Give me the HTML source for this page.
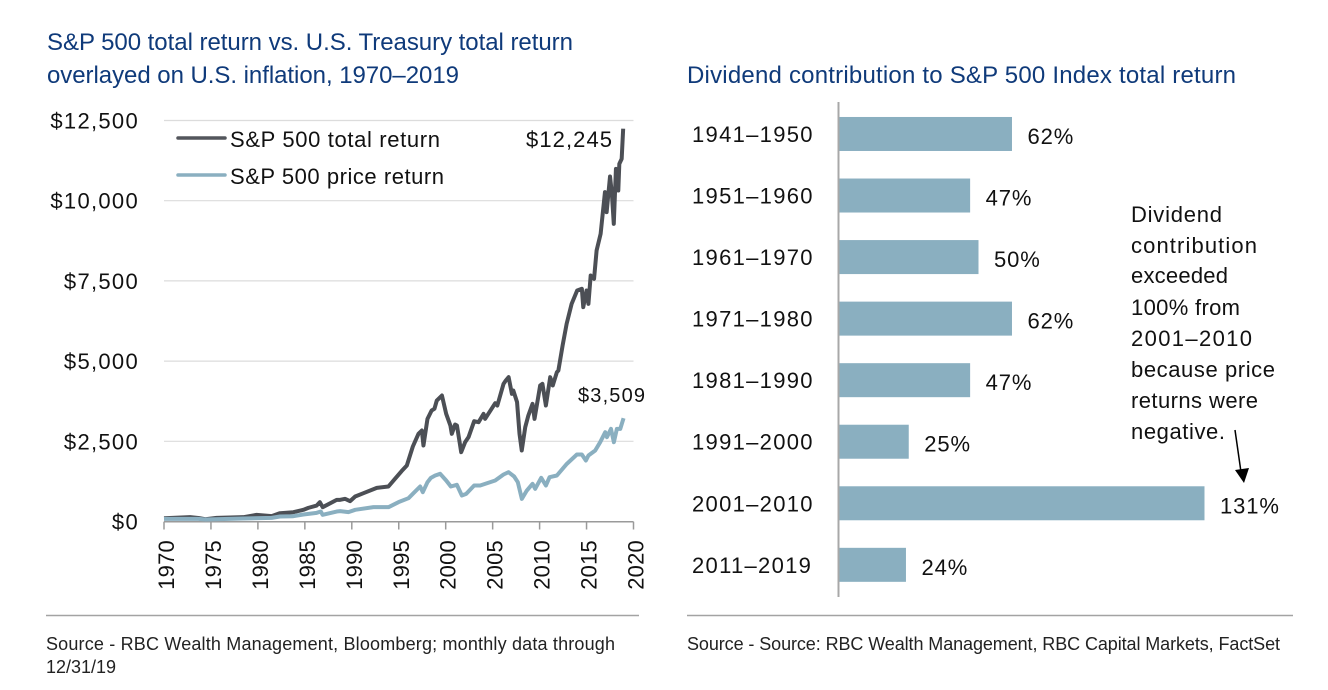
<!DOCTYPE html>
<html lang="en">
<head>
<meta charset="utf-8">
<title>S&amp;P 500 total return and dividend contribution</title>
<style>
html,body{margin:0;padding:0;background:#fff}
svg{display:block}
text{font-family:"Liberation Sans",sans-serif;fill:#111}
.title{fill:#0f3a7a;font-size:24px}
.foot{fill:#222;font-size:18px}
.note{font-size:22px}
</style>
</head>
<body>
<svg id="root" width="1328" height="690" viewBox="0 0 1328 690" xmlns="http://www.w3.org/2000/svg">
  <rect width="1328" height="690" fill="#fff"/>
  <text class="title" x="47" y="50" textLength="526" lengthAdjust="spacing">S&amp;P 500 total return vs. U.S. Treasury total return</text>
  <text class="title" x="47" y="83" textLength="412" lengthAdjust="spacing">overlayed on U.S. inflation, 1970–2019</text>
  <text class="title" x="687" y="83" textLength="549" lengthAdjust="spacing">Dividend contribution to S&amp;P 500 Index total return</text>

  <g id="left-chart"></g>

  <g>
    <line x1="178" x2="225" y1="138" y2="138" stroke="#53565c" stroke-width="3.5" stroke-linecap="round"/>
    <text x="230" y="147" font-size="22" textLength="210" lengthAdjust="spacing">S&amp;P 500 total return</text>
    <line x1="178" x2="225" y1="175" y2="175" stroke="#8aafc0" stroke-width="3.5" stroke-linecap="round"/>
    <text x="230" y="184" font-size="22" textLength="214" lengthAdjust="spacing">S&amp;P 500 price return</text>
  </g>
  <text x="526" y="147" font-size="22" textLength="86" lengthAdjust="spacing">$12,245</text>
  <text x="578" y="402" font-size="20" textLength="67" lengthAdjust="spacing">$3,509</text>

  <g id="right-chart"></g>

  <g>
    <text class="note" x="1131" y="222" textLength="91" lengthAdjust="spacing">Dividend</text>
    <text class="note" x="1131" y="253" textLength="126" lengthAdjust="spacing">contribution</text>
    <text class="note" x="1131" y="283" textLength="97" lengthAdjust="spacing">exceeded</text>
    <text class="note" x="1131" y="315" textLength="109" lengthAdjust="spacing">100% from</text>
    <text class="note" x="1131" y="346" textLength="121" lengthAdjust="spacing">2001–2010</text>
    <text class="note" x="1131" y="377" textLength="144" lengthAdjust="spacing">because price</text>
    <text class="note" x="1131" y="408" textLength="127" lengthAdjust="spacing">returns were</text>
    <text class="note" x="1131" y="439" textLength="94" lengthAdjust="spacing">negative.</text>
    <line x1="1235" y1="430" x2="1241" y2="472" stroke="#000" stroke-width="1.5"/>
    <polygon points="1235,470 1249,468 1244,483" fill="#000"/>
  </g>

  <line x1="46" x2="639" y1="615.5" y2="615.5" stroke="#a3a3a3" stroke-width="1.5"/>
  <line x1="687" x2="1293" y1="615.5" y2="615.5" stroke="#a3a3a3" stroke-width="1.5"/>
  <text class="foot" x="46" y="650" textLength="569" lengthAdjust="spacing">Source - RBC Wealth Management, Bloomberg; monthly data through</text>
  <text class="foot" x="46" y="673" textLength="70" lengthAdjust="spacing">12/31/19</text>
  <text class="foot" x="687" y="650" textLength="593" lengthAdjust="spacing">Source - Source: RBC Wealth Management, RBC Capital Markets, FactSet</text>
</svg>
<script>
const yTicks = [0, 2500, 5000, 7500, 10000, 12500];
const yTickLabels = ["$0", "$2,500", "$5,000", "$7,500", "$10,000", "$12,500"];
const xTicks = [1970, 1975, 1980, 1985, 1990, 1995, 2000, 2005, 2010, 2015, 2020];

const totalYears = [1970,1972.77,1973.66,1974.4,1975.6,1978.45,1979.87,1981.47,1982.35,1983.77,1984.84,1985.37,1986.26,1986.6,1986.9,1988.39,1988.76,1989.28,1989.82,1990.36,1991.24,1992.66,1993.9,1994.6,1995.3,1995.86,1996.5,1997.1,1997.46,1997.63,1998.06,1998.5,1998.8,1999.05,1999.6,2000.05,2000.5,2000.65,2001,2001.2,2001.65,2002.07,2002.43,2003.03,2003.5,2004.03,2004.2,2005.27,2005.5,2006.16,2006.4,2006.7,2007.05,2007.2,2007.6,2007.86,2008.1,2008.47,2008.8,2009.25,2009.46,2010.06,2010.3,2010.67,2011.13,2011.4,2011.84,2012,2012.45,2012.88,2013.41,2014,2014.5,2014.65,2015,2015.2,2015.44,2015.8,2016.07,2016.5,2016.96,2017.14,2017.5,2017.7,2017.9,2018.13,2018.38,2018.49,2018.74,2018.9];
const totalValues = [100,135,110,70,114,135,207,166,259,290,363,425,498,602,446,675,675,706,634,779,883,1049,1091,1330,1569,1746,2338,2733,2836,2369,3200,3460,3512,3771,3927,3356,2992,2733,3023,2992,2161,2473,2629,3127,3096,3356,3200,3688,3616,4291,4395,4499,3979,4083,3720,2733,2213,2940,3304,3668,3200,4239,4291,3616,4499,4239,4655,4707,5486,6162,6785,7201,7253,6681,7201,6785,7668,7564,8447,8967,10266,9642,10754,10214,9279,10993,10318,11149,11305,12245];

const priceYears = [1970,1973.66,1974.4,1978.45,1981.47,1982.35,1983.77,1984.84,1986.26,1986.7,1986.9,1988.39,1988.76,1989.64,1990.36,1992.31,1993.91,1994.97,1996.04,1996.5,1997.28,1997.56,1998.06,1998.42,1998.88,1999.41,2000.05,2000.55,2001.19,2001.72,2002.18,2003.03,2003.67,2005.27,2006.16,2006.69,2007.29,2007.68,2008.11,2008.64,2009.25,2009.53,2010.17,2010.67,2011.06,2011.84,2012.9,2013.97,2014.5,2014.93,2015.2,2015.92,2016.45,2016.99,2017.17,2017.6,2017.91,2018.23,2018.59,2018.94];
const priceValues = [83,82,62,93,114,155,165,218,270,311,207,311,322,291,364,447,447,603,727,862,1091,914,1226,1361,1434,1486,1278,1091,1143,810,862,1122,1122,1278,1465,1538,1403,1226,706,966,1174,1018,1361,1122,1382,1434,1797,2088,2088,1901,2057,2213,2473,2784,2629,2888,2473,2888,2888,3221];

const barCategories = ["1941–1950","1951–1960","1961–1970","1971–1980","1981–1990","1991–2000","2001–2010","2011–2019"];
const barValues = [62, 47, 50, 62, 47, 25, 131, 24];

const NS = "http://www.w3.org/2000/svg";
function make(tag, attrs, parent, txt) {
  const el = document.createElementNS(NS, tag);
  for (const k in attrs) el.setAttribute(k, attrs[k]);
  if (txt !== undefined) el.textContent = txt;
  parent.appendChild(el);
  return el;
}

/* ---------- Left line chart ---------- */
const left = document.getElementById("left-chart");
const xOf = yr => 164 + (yr - 1970) * (633.5 - 164) / 50;
const yOf = v => 521.5 - v * (521.5 - 120.5) / 12500;

yTicks.forEach((t, i) => {
  if (t > 0) {
    const g = make("line", {x1:164, x2:633.5, y1:yOf(t), y2:yOf(t), stroke:"#dcdcdc", "stroke-width":1.2}, left);
    
    
  }
  const lb = make("text", {x:139, y:yOf(t) + 8, "text-anchor":"end", "font-size":22, "letter-spacing":1.3}, left, yTickLabels[i]);
  
  
});

const xAxis = make("line", {x1:164, x2:633.5, y1:521.7, y2:521.7, stroke:"#9a9a9a", "stroke-width":1.5}, left);



xTicks.forEach(t => {
  const tk = make("line", {x1:xOf(t), x2:xOf(t), y1:521.7, y2:529.5, stroke:"#9a9a9a", "stroke-width":1.5}, left);
  
  
  const lb = make("text", {transform:"translate(" + (xOf(t) + 10) + ",540) rotate(-90)", "text-anchor":"end", "font-size":22, "letter-spacing":0.2}, left, String(t));
  
  
});

function linePath(xs, vs) {
  return xs.map((yr, i) => (i ? "L" : "M") + xOf(yr).toFixed(2) + " " + yOf(vs[i]).toFixed(2)).join("");
}
const totalLine = make("path", {d:linePath(totalYears, totalValues), fill:"none", stroke:"#4c4f55", "stroke-width":4, "stroke-linejoin":"round"}, left);


const priceLine = make("path", {d:linePath(priceYears, priceValues), fill:"none", stroke:"#8aafc0", "stroke-width":4, "stroke-linejoin":"round"}, left);



/* ---------- Right bar chart ---------- */
const right = document.getElementById("right-chart");
const barX0 = 839;
const barW = v => v * 2.79;
const bandTop = 103.2, bandH = 61.55, barH = 34;

barCategories.forEach((c, i) => {
  const cy = bandTop + bandH * (i + 0.5);
  const bar = make("rect", {x:barX0, y:cy - barH / 2, width:barW(barValues[i]), height:barH, fill:"#8aafc0"}, right);
  
  
  const cat = make("text", {x:692, y:cy + 8, "font-size":22, "letter-spacing":1.3}, right, c);
  
  
  const val = make("text", {x:barX0 + barW(barValues[i]) + 15.5, y:cy + 10, "font-size":22, "letter-spacing":0.9}, right, barValues[i] + "%");
  
  
});
const catAxis = make("line", {x1:838.5, x2:838.5, y1:102, y2:597, stroke:"#a8a8a8", "stroke-width":2}, right);


</script>
</body>
</html>
